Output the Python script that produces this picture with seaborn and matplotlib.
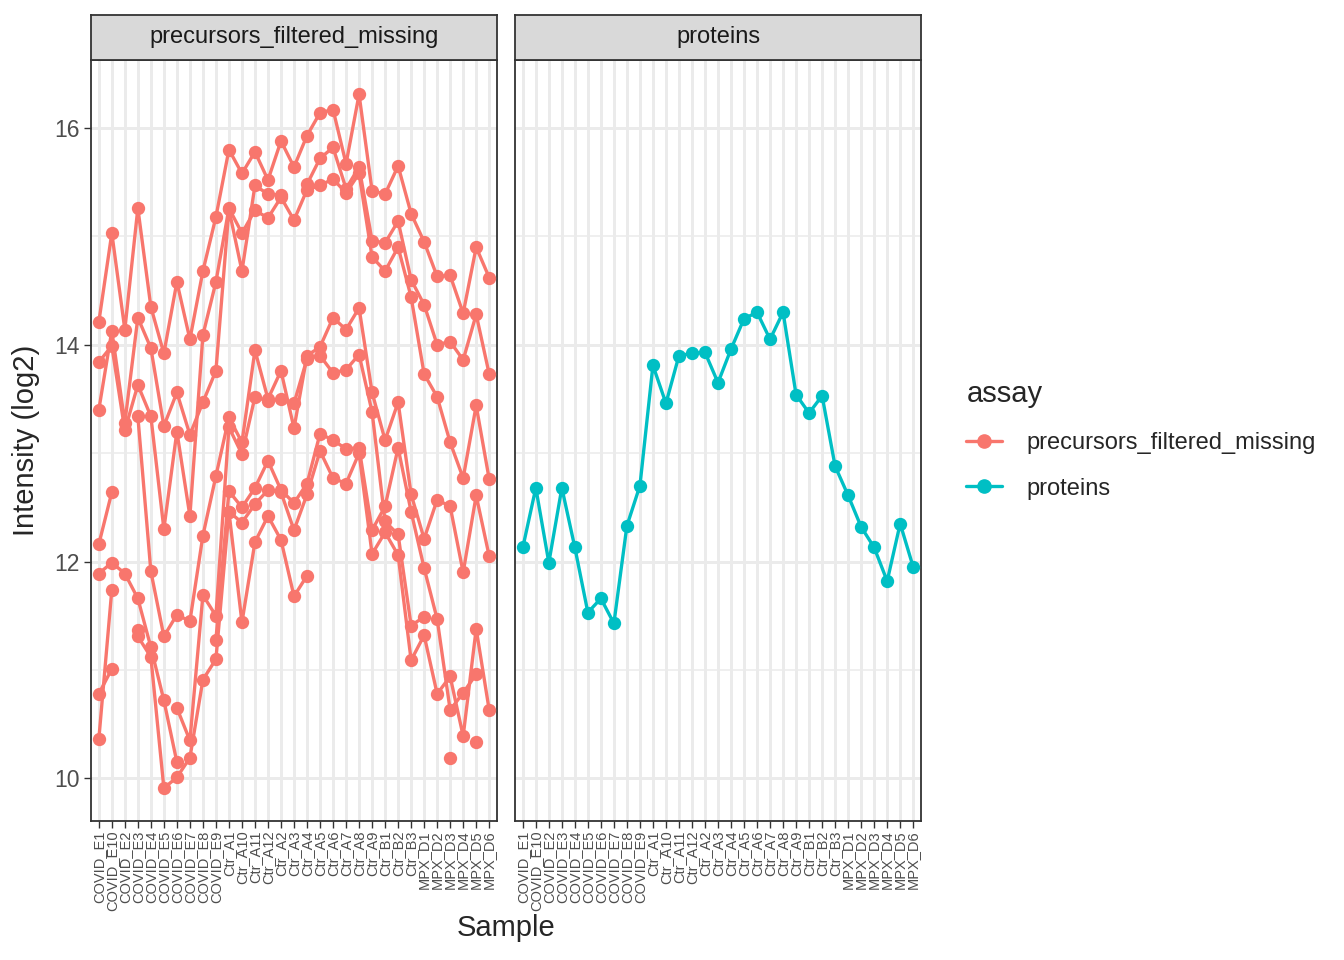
import numpy as np
import pandas as pd
import seaborn as sns
import matplotlib.pyplot as plt
from matplotlib.lines import Line2D

nan = np.nan

samples = ["COVID_E1", "COVID_E10", "COVID_E2", "COVID_E3", "COVID_E4", "COVID_E5",
           "COVID_E6", "COVID_E7", "COVID_E8", "COVID_E9",
           "Ctr_A1", "Ctr_A10", "Ctr_A11", "Ctr_A12", "Ctr_A2", "Ctr_A3", "Ctr_A4",
           "Ctr_A5", "Ctr_A6", "Ctr_A7", "Ctr_A8", "Ctr_A9", "Ctr_B1", "Ctr_B2", "Ctr_B3",
           "MPX_D1", "MPX_D2", "MPX_D3", "MPX_D4", "MPX_D5", "MPX_D6"]

# precursor intensities (log2), NaN = missing
prec_1 = [14.21, 15.03, 14.14, 15.26, 14.35, 13.92, 14.58, 14.05, 14.68, 15.18,
          15.80, 15.58, 15.78, 15.52, 15.88, 15.64, 15.93, 16.14, 16.17, 15.67, 16.31,
          15.42, 15.39, 15.65, 15.21, 14.95, 14.63, 14.64, 14.29, 14.90, 14.62]
prec_2 = [13.84, 13.99, 13.21, 13.63, 13.34, 12.30, 13.20, 12.42, 14.09, 14.58,
          15.26, 15.03, 15.24, 15.17, 15.36, 15.15, 15.43, 15.47, 15.53, 15.40, 15.58,
          14.81, 14.68, 14.90, 14.44, 13.73, 13.52, 13.10, 12.77, 13.44, 12.76]
prec_3 = [13.40, 14.13, 13.28, 14.25, 13.97, 13.25, 13.56, 13.17, 13.47, 13.76,
          15.25, 14.68, 15.47, 15.39, 15.38, nan, 15.48, 15.72, 15.82, 15.44, 15.64,
          14.96, 14.94, 15.14, 14.60, 14.37, 14.00, 14.03, 13.86, 14.28, 13.73]
prec_4 = [12.16, 12.64, nan, 13.34, 11.91, 11.31, 11.51, 11.45, 12.24, 12.79,
          13.33, 13.10, 13.95, 13.50, 13.76, 13.23, 13.90, 13.98, 14.25, 14.14, 14.34,
          13.56, 13.12, 13.47, 12.62, 12.21, 12.57, 12.51, 11.90, 12.61, 12.05]
prec_5 = [11.89, 11.99, 11.89, 11.66, 11.21, 10.72, 10.15, nan, nan, 11.28,
          12.65, 12.50, 12.68, 12.93, 12.66, 12.54, 12.72, 13.18, 13.12, 13.04, 13.05,
          12.29, 12.51, 13.05, 12.46, 11.94, 11.47, 10.63, 10.79, 10.96, nan]
prec_6 = [10.78, 11.01, nan, 11.31, 11.12, 9.91, 10.01, 10.19, 10.91, 11.10,
          12.46, 11.44, 12.18, 12.42, 12.20, 11.68, 11.87, nan, nan, nan, nan,
          nan, nan, nan, nan, nan, nan, nan, nan, nan, nan]
prec_7 = [10.36, 11.74, nan, 11.37, nan, nan, 10.65, 10.35, 11.69, 11.50,
          13.24, 12.99, 13.52, 13.48, 13.50, 13.46, 13.87, 13.90, 13.74, 13.77, 13.91,
          13.38, 12.37, 12.25, 11.41, 11.49, nan, 10.19, nan, 10.34, nan]
prec_8 = [nan, nan, nan, nan, nan, nan, nan, nan, nan, nan,
          12.46, 12.36, 12.53, 12.66, 12.64, 12.29, 12.62, 13.02, 12.77, 12.72, 13.00,
          12.07, 12.27, 12.06, 11.09, 11.32, 10.78, 10.94, 10.39, 11.38, 10.63]

protein = [12.13, 12.68, 11.99, 12.68, 12.13, 11.53, 11.66, 11.43, 12.33, 12.70,
           13.81, 13.46, 13.90, 13.92, 13.93, 13.65, 13.96, 14.24, 14.30, 14.05, 14.30,
           13.54, 13.37, 13.53, 12.88, 12.61, 12.32, 12.13, 11.82, 12.35, 11.95]

assays = ["precursors_filtered_missing", "proteins"]
colors = {"precursors_filtered_missing": "#F8766D", "proteins": "#00BFC4"}

features = {
    "precursors_filtered_missing": [prec_1, prec_2, prec_3, prec_4,
                                    prec_5, prec_6, prec_7, prec_8],
    "proteins": [protein],
}

rows = []
for assay, series in features.items():
    for k, vals in enumerate(series):
        vals = np.asarray(vals, dtype=float)
        seg = np.cumsum(np.isnan(vals))  # break the line at missing values
        for i, v in enumerate(vals):
            if not np.isnan(v):
                rows.append({"assay": assay, "Sample": samples[i], "pos": i,
                             "value": v, "seg": f"{assay}_{k}_{seg[i]}"})
df = pd.DataFrame(rows)

sns.set_theme(style="white")
plt.rcParams["font.family"] = ["Liberation Sans", "DejaVu Sans"]

W, H = 1344, 960
fig = plt.figure(figsize=(W / 100, H / 100), dpi=100)

grid_col = "#EBEBEB"
dark = "#333333"
panel_x = [91, 515]
panel_w = 406
top, bottom = 60, 821

for j, assay in enumerate(assays):
    ax = fig.add_axes([panel_x[j] / W, 1 - bottom / H, panel_w / W, (bottom - top) / H])
    d = df[df["assay"] == assay]
    sns.lineplot(data=d, x="pos", y="value", units="seg", estimator=None,
                 color=colors[assay], lw=2.4, ax=ax, legend=False, sort=True)
    sns.scatterplot(data=d, x="pos", y="value", color=colors[assay], s=92,
                    linewidth=0, ax=ax, legend=False, zorder=3)

    ax.set_xlim(-0.6, 30.6)
    ax.set_ylim(9.607, 16.627)
    ax.set_xticks(range(len(samples)))
    ax.set_xticklabels(samples, rotation=90, fontsize=10.5, color="#4D4D4D")
    ax.set_yticks([10, 12, 14, 16])
    ax.set_yticks([11, 13, 15], minor=True)
    ax.set_axisbelow(True)
    ax.grid(which="major", color=grid_col, lw=2.1)
    ax.grid(which="minor", axis="y", color=grid_col, lw=1.1)
    ax.set_xlabel("")
    ax.set_ylabel("")
    for s in ax.spines.values():
        s.set_color(dark)
        s.set_linewidth(1.3)
    ax.tick_params(axis="x", which="major", length=5, width=1, color=dark, pad=2,
                   bottom=True)
    ax.tick_params(axis="y", which="minor", length=0)
    if j == 0:
        ax.tick_params(axis="y", which="major", length=5, width=1, color=dark,
                       labelsize=16.5, labelcolor="#4D4D4D", pad=3, left=True)
    else:
        ax.tick_params(axis="y", which="major", length=0, labelleft=False)

    # facet strip
    sax = fig.add_axes([panel_x[j] / W, 1 - top / H, panel_w / W, 45 / H])
    sax.set_facecolor("#D9D9D9")
    sax.set_xticks([])
    sax.set_yticks([])
    for s in sax.spines.values():
        s.set_color(dark)
        s.set_linewidth(1.3)
    sax.text(0.5, 0.5, assay, ha="center", va="center", fontsize=17,
             color="#1A1A1A", transform=sax.transAxes)

fig.text(26 / W, 1 - 440 / H, "Intensity (log2)", rotation=90, ha="center",
         va="center", fontsize=21)
fig.text(506 / W, 1 - 928 / H, "Sample", ha="center", va="center", fontsize=21)

handles = [Line2D([0], [0], color=colors[a], lw=2.4, marker="o", ms=9.5) for a in assays]
leg = fig.legend(handles, assays, title="assay", loc="center left",
                 bbox_to_anchor=(945 / W, 1 - 440 / H), frameon=False,
                 fontsize=17, title_fontsize=21, handlelength=1.5,
                 handletextpad=1.05, labelspacing=1.0)
leg._legend_box.align = "left"

fig.savefig("out.png", dpi=100)
